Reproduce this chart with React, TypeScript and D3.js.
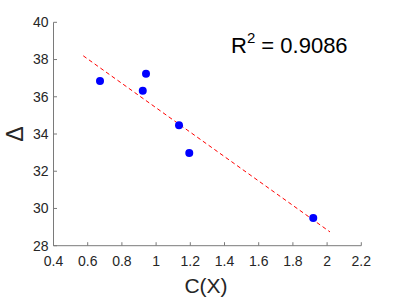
import React from 'react';
import * as d3 from 'd3';

// scatter points
const xVals = [0.672, 0.922, 0.941, 1.134, 1.194, 1.919];
const yVals = [36.85, 36.32, 37.23, 34.47, 32.98, 29.49];

// fitted line end points
const fitX = [0.574, 2.017];
const fitY = [38.2, 28.74];

const xTicks = [0.4, 0.6, 0.8, 1, 1.2, 1.4, 1.6, 1.8, 2, 2.2];
const yTicks = [28, 30, 32, 34, 36, 38, 40];

const rSquared = '0.9086';

const font = '"Liberation Sans", Arial, Helvetica, sans-serif';

export default function App() {
  const width = 399;
  const height = 299;
  const margin = { top: 22.3, right: 37.7, bottom: 53.3, left: 53.5 };
  const innerW = width - margin.left - margin.right;
  const innerH = height - margin.top - margin.bottom;

  const x = d3.scaleLinear().domain([0.4, 2.2]).range([0, innerW]);
  const y = d3.scaleLinear().domain([28, 40]).range([innerH, 0]);

  const line = d3.line<number>()
    .x((d) => x(d))
    .y((d, i) => y(fitY[i]));

  const axisColor = '#7a7a7a';
  const textColor = '#262626';

  return (
    <svg width={width} height={height} style={{ position: 'absolute', left: 0, top: 0, background: '#fff' }}>
      <g transform={`translate(${margin.left},${margin.top})`}>
        <path d={line(fitX) || ''} fill="none" stroke="#ff0000" strokeWidth={1} strokeDasharray="4,3" />
        {xVals.map((d, i) => (
          <circle key={i} cx={x(d)} cy={y(yVals[i])} r={4} fill="#0000ff" />
        ))}

        {/* x axis */}
        <line x1={0} x2={innerW} y1={innerH} y2={innerH} stroke={axisColor} strokeWidth={1} />
        {xTicks.map((t) => (
          <g key={t} transform={`translate(${x(t)},${innerH})`}>
            <line y1={0} y2={-3.5} stroke={axisColor} strokeWidth={1} />
            <text y={20} textAnchor="middle" fontFamily={font} fontSize={14} fill={textColor}>{t}</text>
          </g>
        ))}

        {/* y axis */}
        <line x1={0} x2={0} y1={0} y2={innerH} stroke={axisColor} strokeWidth={1} />
        {yTicks.map((t) => (
          <g key={t} transform={`translate(0,${y(t)})`}>
            <line x1={0} x2={3.5} stroke={axisColor} strokeWidth={1} />
            <text x={-5} dy="0.35em" textAnchor="end" fontFamily={font} fontSize={14} fill={textColor}>{t}</text>
          </g>
        ))}
      </g>

      <text x={206} y={293} textAnchor="middle" fontFamily={font} fontSize={21} fill={textColor}>C(X)</text>
      <text transform="translate(23,134) rotate(-90)" textAnchor="middle" fontFamily={font} fontSize={23} fill={textColor}>Δ</text>

      <text x={231} y={53} fontFamily={font} fontSize={22} fill="#000">
        R<tspan fontSize={15} dy={-10}>2</tspan><tspan dy={10}> = {rSquared}</tspan>
      </text>
    </svg>
  );
}
